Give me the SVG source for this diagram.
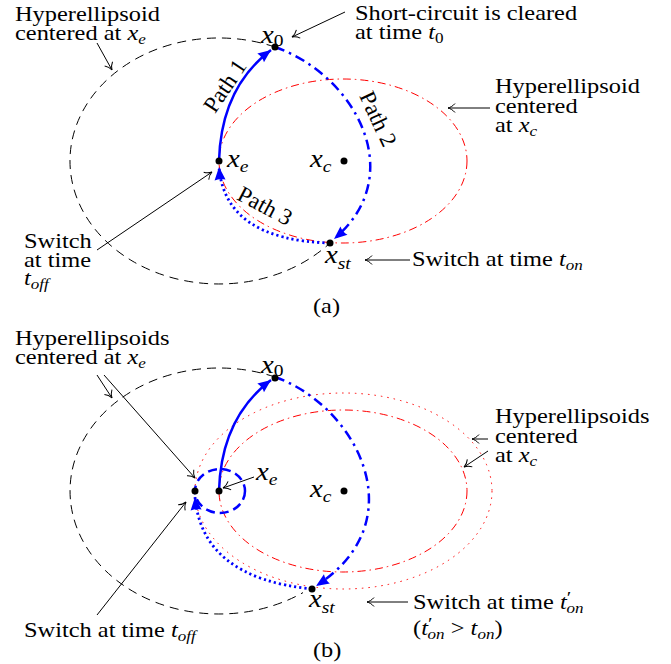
<svg xmlns="http://www.w3.org/2000/svg" width="671" height="664" viewBox="0 0 671 664">
<style>
.t{font-family:"Liberation Serif",serif;font-size:20px;fill:#000}
.m{font-family:"Liberation Serif",serif;font-size:25px;font-style:italic;fill:#000}
.pl{font-family:"Liberation Serif",serif;font-size:23px;fill:#000}
.i{font-style:italic}
.s{font-size:14px}
.pr{font-size:17px}
.ms{font-size:17px}
.blk{fill:none;stroke:#000;stroke-width:1;stroke-dasharray:9 6}
.red{fill:none;stroke:#f00;stroke-width:1;stroke-dasharray:8 4 1.5 4}
.redd{fill:none;stroke:#f00;stroke-width:1;stroke-dasharray:1.5 5}
.p1{fill:none;stroke:#00f;stroke-width:2.5;marker-end:url(#ba)}
.p2{fill:none;stroke:#00f;stroke-width:2.5;stroke-dasharray:10 5 2.5 5;marker-end:url(#ba)}
.p3{fill:none;stroke:#00f;stroke-width:2.8;stroke-dasharray:2.2 3;marker-end:url(#ba)}
.bc{fill:none;stroke:#00f;stroke-width:2.5;stroke-dasharray:9 5}
.ar{fill:none;stroke:#000;stroke-width:1;marker-end:url(#oa)}
.dot{fill:#000}
</style>
<defs>
<marker id="oa" viewBox="-10 -6 12 12" markerWidth="12" markerHeight="12" refX="0" refY="0" orient="auto" markerUnits="userSpaceOnUse"><path d="M-7,-4.5 C-5,-2 -2,-0.5 0,0 C-2,0.5 -5,2 -7,4.5" fill="none" stroke="#000" stroke-width="1"/></marker>
<marker id="ba" viewBox="-15 -8 17 16" markerWidth="17" markerHeight="16" refX="0" refY="0" orient="auto" markerUnits="userSpaceOnUse"><path d="M-13,-5.5 L0,0 L-13,5.5 Q-11,0 -13,-5.5Z" fill="#00f"/></marker>
</defs>

<!-- Panel (a) -->
<g id="ellipses-a">
<path class="blk" d="M275,47 A149,123 0 1,0 330,243"/>
<ellipse class="red" cx="343" cy="161" rx="124" ry="82"/>
</g>
<g id="connectors-a">
<path class="p1" d="M219,161 Q221,88 271,50"/>
<path class="p2" d="M275,47 C355,75 410,175 334,239"/>
<path class="p3" d="M330,243 Q225,240 219,167"/>
<path class="ar" d="M97,43 L112,70"/>
<path class="ar" d="M345,12 L292,37"/>
<path class="ar" d="M490,108 L448,108"/>
<path class="ar" d="M410,260 L365,260"/>
<path class="ar" d="M97,250 L212,172"/>
</g>
<g id="node-x0-a"><circle class="dot" cx="275" cy="47" r="3.5"/><text class="m" transform="translate(261 43) scale(1.15 1)">x<tspan class="ms" font-style="normal" dy="3">0</tspan></text></g>
<g id="node-xe-a"><circle class="dot" cx="219" cy="161" r="3.5"/><text class="m" transform="translate(227 167) scale(1.15 1)">x<tspan class="ms" dy="5">e</tspan></text></g>
<g id="node-xc-a"><circle class="dot" cx="344" cy="161" r="3.5"/><text class="m" transform="translate(310 167) scale(1.15 1)">x<tspan class="ms" dy="5">c</tspan></text></g>
<g id="node-xst-a"><circle class="dot" cx="330" cy="243" r="3.5"/><text class="m" transform="translate(325 263) scale(1.15 1)">x<tspan class="ms" dy="6">st</tspan></text></g>
<g id="path-labels-a">
<text class="pl" text-anchor="middle" dominant-baseline="central" transform="translate(225 86) rotate(-56)">Path 1</text>
<text class="pl" text-anchor="middle" dominant-baseline="central" transform="translate(378 119) rotate(65)">Path 2</text>
<text class="pl" text-anchor="middle" dominant-baseline="central" transform="translate(265 206) rotate(28)">Path 3</text>
</g>
<g id="labels-a">
<text class="t" transform="translate(15 21) scale(1.22 1)">Hyperellipsoid</text>
<text class="t" transform="translate(15 40) scale(1.22 1)">centered at <tspan class="i">x</tspan><tspan class="i s" dy="4">e</tspan></text>
<text class="t" transform="translate(355 20) scale(1.22 1)">Short-circuit is cleared</text>
<text class="t" transform="translate(355 39) scale(1.22 1)">at time <tspan class="i">t</tspan><tspan class="s" dy="4">0</tspan></text>
<text class="t" transform="translate(495 93) scale(1.22 1)">Hyperellipsoid</text>
<text class="t" transform="translate(495 113) scale(1.22 1)">centered</text>
<text class="t" transform="translate(495 132) scale(1.22 1)">at <tspan class="i">x</tspan><tspan class="i s" dy="4">c</tspan></text>
<text class="t" transform="translate(24 248) scale(1.22 1)">Switch</text>
<text class="t" transform="translate(24 267) scale(1.22 1)">at time</text>
<text class="t" transform="translate(24 285) scale(1.22 1)"><tspan class="i">t</tspan><tspan class="i s" dy="4">off</tspan></text>
<text class="t" transform="translate(412 266) scale(1.22 1)">Switch at time <tspan class="i">t</tspan><tspan class="i s" dy="4">on</tspan></text>
<text class="t" transform="translate(313 313) scale(1.22 1)">(a)</text>
</g>

<!-- Panel (b) -->
<g id="ellipses-b">
<path class="blk" d="M275,377 A149,123 0 1,0 303,592.6"/>
<ellipse class="red" cx="343" cy="491" rx="124" ry="81"/>
<ellipse class="redd" cx="343.5" cy="491" rx="148.5" ry="98"/>
<ellipse class="bc" cx="220" cy="491" rx="25" ry="22"/>
</g>
<g id="connectors-b">
<path class="p1" d="M219,491 Q221,418 271,380"/>
<path class="p2" d="M275,377 C355,405 418,520 316,586"/>
<path class="p3" d="M312,589 Q202,578 195,497"/>
<path class="ar" d="M97,375 L112,398"/>
<path class="ar" d="M104,375 L195,478"/>
<path class="ar" d="M97,615 L186,502"/>
<path class="ar" d="M254,477 L223,488"/>
<path class="ar" d="M488,439 L472,439"/>
<path class="ar" d="M488,451 L464,467"/>
<path class="ar" d="M408,602 L367,602"/>
</g>
<g id="node-x0-b"><circle class="dot" cx="275" cy="378" r="3.5"/><text class="m" transform="translate(261 373) scale(1.15 1)">x<tspan class="ms" font-style="normal" dy="3">0</tspan></text></g>
<g id="node-xe-b"><circle class="dot" cx="219" cy="491" r="3.5"/><text class="m" transform="translate(256 480) scale(1.15 1)">x<tspan class="ms" dy="5">e</tspan></text></g>
<g id="node-xoff-b"><circle class="dot" cx="195" cy="491" r="3.5"/></g>
<g id="node-xc-b"><circle class="dot" cx="344" cy="491" r="3.5"/><text class="m" transform="translate(310 497) scale(1.15 1)">x<tspan class="ms" dy="5">c</tspan></text></g>
<g id="node-xst-b"><circle class="dot" cx="312" cy="589" r="3.5"/><text class="m" transform="translate(309 607) scale(1.15 1)">x<tspan class="ms" dy="6">st</tspan></text></g>
<g id="labels-b">
<text class="t" transform="translate(15 345) scale(1.22 1)">Hyperellipsoids</text>
<text class="t" transform="translate(15 364) scale(1.22 1)">centered at <tspan class="i">x</tspan><tspan class="i s" dy="4">e</tspan></text>
<text class="t" transform="translate(495 423) scale(1.22 1)">Hyperellipsoids</text>
<text class="t" transform="translate(495 443) scale(1.22 1)">centered</text>
<text class="t" transform="translate(495 462) scale(1.22 1)">at <tspan class="i">x</tspan><tspan class="i s" dy="4">c</tspan></text>
<text class="t" transform="translate(413 609) scale(1.22 1)">Switch at time <tspan class="i">t</tspan><tspan class="pr" dy="-6">′</tspan><tspan class="i s" dx="-4" dy="10">on</tspan></text>
<text class="t" transform="translate(413 635) scale(1.22 1)">(<tspan class="i">t</tspan><tspan class="pr" dy="-6">′</tspan><tspan class="i s" dx="-4" dy="10">on</tspan><tspan dy="-4"> &gt; </tspan><tspan class="i">t</tspan><tspan class="i s" dy="4">on</tspan><tspan dy="-4">)</tspan></text>
<text class="t" transform="translate(24 637) scale(1.22 1)">Switch at time <tspan class="i">t</tspan><tspan class="i s" dy="4">off</tspan></text>
<text class="t" transform="translate(313 657) scale(1.22 1)">(b)</text>
</g>
</svg>
